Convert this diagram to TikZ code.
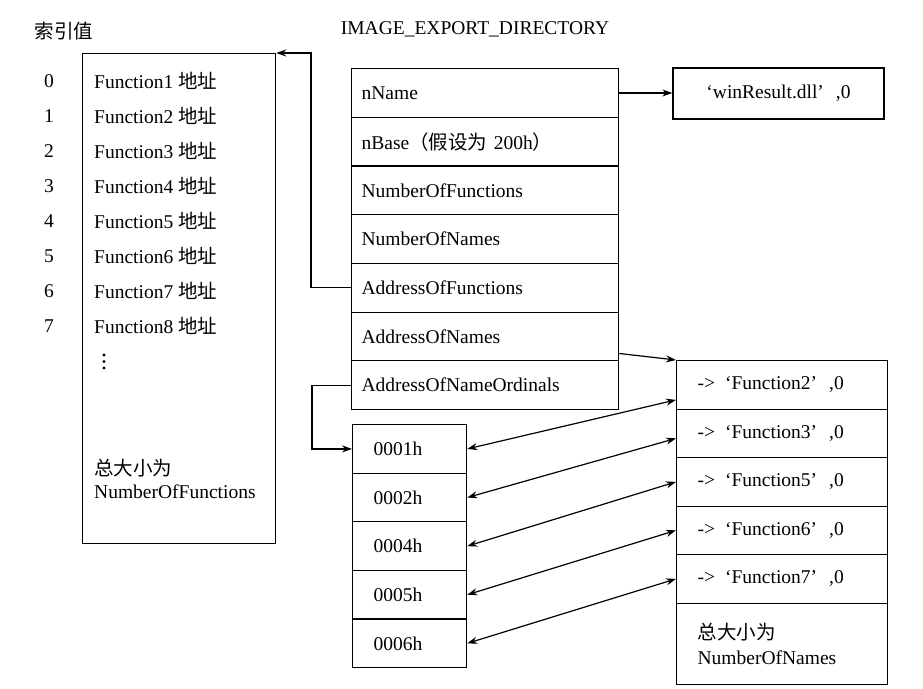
\documentclass[tikz,border=0pt]{standalone}
\usepackage{fontspec}
\setmainfont{Liberation Serif}
\newfontfamily\cjk{Noto Sans CJK SC}
\usetikzlibrary{arrows.meta}
\begin{document}
\begin{tikzpicture}[x=1pt,y=-1pt,
  every node/.style={font=\fontsize{19.5}{25}\selectfont, inner sep=0pt},
  box/.style={draw, line width=1.25pt},
  drow/.style={box, anchor=north west, minimum height=48.7pt, text width=247pt, inner xsep=10pt, align=left},
  nrow/.style={box, anchor=north west, minimum height=48.5pt, text width=169pt, inner xsep=21pt, align=left},
  orow/.style={box, anchor=north west, minimum height=48.6pt, text width=72pt, inner xsep=21pt, align=left},
  lbl/.style={anchor=west},
  idx/.style={anchor=center},
  arr/.style={line width=1.2pt, -{Stealth[length=10pt,width=7pt]}},
  darr/.style={line width=1.2pt, {Stealth[length=10pt,width=7pt]}-{Stealth[length=10pt,width=7pt]}}
]
\useasboundingbox (0,0) rectangle (923,688);

% titles
\node (tidx) at (64,31) {\cjk 索引值};
\node (title) at (475,29) {IMAGE\_EXPORT\_DIRECTORY};

% function address table
\node[box, anchor=north west, minimum width=193pt, minimum height=490pt] (funcs) at (82,53) {};
\node[idx] (i0) at (49,81) {0};
\node[idx] (i1) at (49,116) {1};
\node[idx] (i2) at (49,151) {2};
\node[idx] (i3) at (49,186) {3};
\node[idx] (i4) at (49,221) {4};
\node[idx] (i5) at (49,256) {5};
\node[idx] (i6) at (49,291) {6};
\node[idx] (i7) at (49,326) {7};
\node[lbl] (f1) at (94,81) {Function1 {\cjk 地址}};
\node[lbl] (f2) at (94,116) {Function2 {\cjk 地址}};
\node[lbl] (f3) at (94,151) {Function3 {\cjk 地址}};
\node[lbl] (f4) at (94,186) {Function4 {\cjk 地址}};
\node[lbl] (f5) at (94,221) {Function5 {\cjk 地址}};
\node[lbl] (f6) at (94,256) {Function6 {\cjk 地址}};
\node[lbl] (f7) at (94,291) {Function7 {\cjk 地址}};
\node[lbl] (f8) at (94,326) {Function8 {\cjk 地址}};
\fill (104,355) circle (1.6pt) (104,361.5) circle (1.6pt) (104,368) circle (1.6pt);
\node[lbl] (ftot1) at (94,468) {\cjk 总大小为};
\node[lbl] (ftot2) at (94,492) {NumberOfFunctions};

% IMAGE_EXPORT_DIRECTORY
\node[drow] (dName) at (351,68) {nName};
\node[drow] (dBase) at (351,116.7) {nBase{\cjk （假设为} 200h{\cjk ）}};
\node[drow] (dNF) at (351,165.4) {NumberOfFunctions};
\node[drow] (dNN) at (351,214.1) {NumberOfNames};
\node[drow] (dAF) at (351,262.8) {AddressOfFunctions};
\node[drow] (dAN) at (351,311.5) {AddressOfNames};
\node[drow] (dANO) at (351,360.2) {AddressOfNameOrdinals};

% dll name
\node[box, minimum width=211pt, minimum height=51pt] (win) at (778.5,93.5) {‘winResult.dll’\hspace{12pt},0};

% ordinals
\node[orow] (o1) at (352,424) {0001h};
\node[orow] (o2) at (352,472.6) {0002h};
\node[orow] (o3) at (352,521.2) {0004h};
\node[orow] (o4) at (352,569.8) {0005h};
\node[orow] (o5) at (352,618.4) {0006h};

% names
\node[nrow] (n1) at (676,360) {->\hspace{10pt}‘Function2’\hspace{12pt},0};
\node[nrow] (n2) at (676,408.5) {->\hspace{10pt}‘Function3’\hspace{12pt},0};
\node[nrow] (n3) at (676,457) {->\hspace{10pt}‘Function5’\hspace{12pt},0};
\node[nrow] (n4) at (676,505.5) {->\hspace{10pt}‘Function6’\hspace{12pt},0};
\node[nrow] (n5) at (676,554) {->\hspace{10pt}‘Function7’\hspace{12pt},0};
\node[nrow, minimum height=81pt] (n6) at (676,602.5) {{\cjk 总大小为}\\NumberOfNames};

% connectors
\draw[arr] (dName.east) -- (dName.east -| win.west);
\draw[arr] (dAF.west) -- ++(-40,0) |- (funcs.north east);
\draw[arr] (dANO.west) -- ++(-39,0) |- (o1.west);
\draw[arr] ([yshift=-17pt]dAN.east) -- (n1.north west);
\draw[darr] (o1.east) -- ([yshift=-15pt]n1.west);
\draw[darr] (o2.east) -- ([yshift=-5pt]n2.west);
\draw[darr] (o3.east) -- (n3.west);
\draw[darr] (o4.east) -- (n4.west);
\draw[darr] (o5.east) -- (n5.west);
\end{tikzpicture}
\end{document}
